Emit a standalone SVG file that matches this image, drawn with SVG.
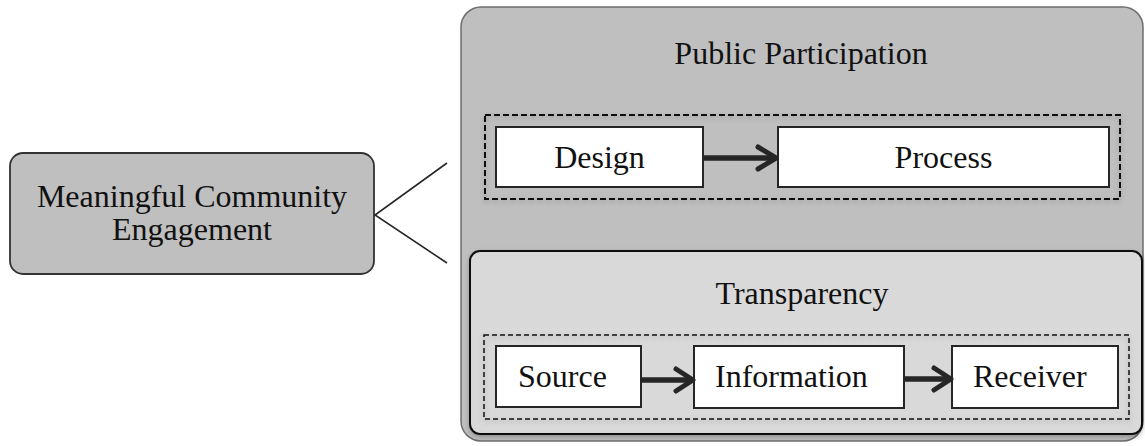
<svg xmlns="http://www.w3.org/2000/svg" width="1145" height="446" viewBox="0 0 1145 446">
  <defs>
    <style>
      text { font-family: "Liberation Serif", "Times New Roman", serif; font-size: 32px; fill: #111; }
      .mid { text-anchor: middle; }
      .outer { fill: #bfbfbf; stroke: #6e6e6e; stroke-width: 1.5; }
      .inner { fill: #d9d9d9; stroke: #111; stroke-width: 2; }
      .group { fill: none; stroke: #111; stroke-width: 1.5; stroke-dasharray: 5 3; }
      .group.strong { stroke-width: 2; stroke-dasharray: 6 3; }
      .step { fill: #fff; stroke: #262626; stroke-width: 2; }
      .root { fill: #bfbfbf; stroke: #333; stroke-width: 1.8; }
      .link { fill: none; stroke: #262626; stroke-width: 1.6; }
      .flow { fill: none; stroke: #262626; stroke-width: 5.5; }
      .head { fill: none; stroke: #262626; stroke-width: 5; stroke-linecap: round; stroke-linejoin: round; }
    </style>
    <filter id="soft" x="-5%" y="-10%" width="110%" height="125%">
      <feDropShadow dx="0" dy="2" stdDeviation="2.5" flood-color="#000" flood-opacity="0.25"/>
    </filter>
  </defs>

  <!-- root concept -->
  <g id="node-engagement">
    <rect class="root" x="10" y="153" width="364" height="121" rx="13"/>
    <text class="mid" x="192" y="207">Meaningful Community</text>
    <text class="mid" x="192" y="240">Engagement</text>
  </g>

  <!-- public participation container -->
  <g id="node-public-participation">
    <rect class="outer" x="461" y="7" width="682" height="434" rx="20"/>
    <text class="mid" x="801" y="64">Public Participation</text>
    <rect class="group strong" x="485" y="115" width="635" height="84" filter="url(#soft)"/>
  </g>
  <g id="node-design">
    <rect class="step" x="496" y="127" width="207" height="60"/>
    <text class="mid" x="599.5" y="168">Design</text>
  </g>
  <g id="node-process">
    <rect class="step" x="778" y="127" width="331" height="60"/>
    <text class="mid" x="943.5" y="168">Process</text>
  </g>

  <!-- transparency container -->
  <g id="node-transparency">
    <rect class="inner" x="470" y="251" width="672" height="183" rx="10" filter="url(#soft)"/>
    <text class="mid" x="802" y="304">Transparency</text>
    <rect class="group" x="484" y="335" width="645" height="84" filter="url(#soft)"/>
  </g>
  <g id="node-source">
    <rect class="step" x="496" y="346" width="145" height="61"/>
    <text x="518" y="387">Source</text>
  </g>
  <g id="node-information">
    <rect class="step" x="694" y="346" width="210" height="62"/>
    <text x="715" y="387">Information</text>
  </g>
  <g id="node-receiver">
    <rect class="step" x="952" y="346" width="166" height="62"/>
    <text x="973" y="387">Receiver</text>
  </g>

  <!-- connectors -->
  <g id="connectors">
    <polyline class="link" points="447,163 375,215 447,263"/>

    <line class="flow" x1="703" y1="158" x2="774" y2="158"/>
    <polyline class="head" points="758,147 776,158 758,169"/>

    <line class="flow" x1="641" y1="380" x2="691" y2="380"/>
    <polyline class="head" points="676,369 693,380 676,391"/>

    <line class="flow" x1="904" y1="379" x2="949" y2="379"/>
    <polyline class="head" points="934,368 951,379 934,390"/>
  </g>
</svg>
